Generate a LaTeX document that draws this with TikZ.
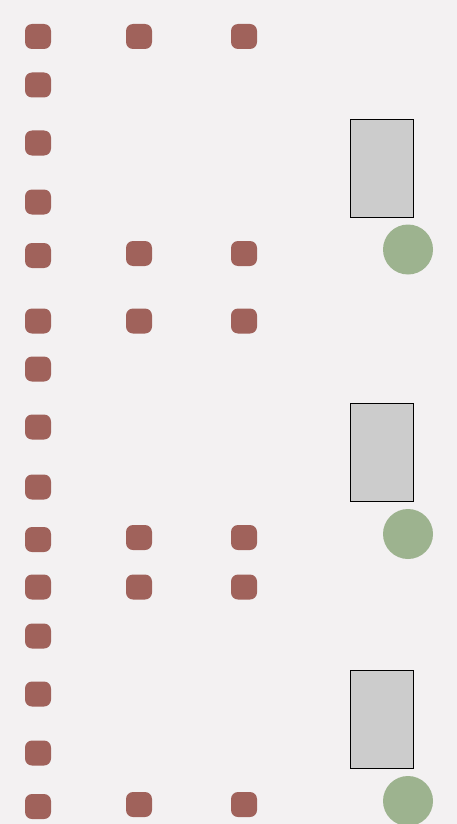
\documentclass[tikz,border=0pt]{standalone}
\definecolor{bgc}{HTML}{F3F1F2}
\definecolor{seatc}{HTML}{A0625B}
\definecolor{greenc}{HTML}{9DB38F}
\definecolor{grayc}{HTML}{CCCCCC}
\tikzset{
  seat/.style={fill=seatc, draw=none, rounded corners=7pt, minimum width=26pt, minimum height=25pt, inner sep=0pt},
  desk/.style={fill=grayc, draw=black, line width=0.8pt, minimum width=63pt, minimum height=98pt, inner sep=0pt},
  ball/.style={fill=greenc, draw=none, circle, minimum size=50pt, inner sep=0pt}
}
\begin{document}
\begin{tikzpicture}[x=1pt,y=-1pt]
\fill[bgc] (0,0) rectangle (457,824);
\useasboundingbox (0,0) rectangle (457,824);
\foreach \y [count=\i] in {36.5,85,143,202,255.5,321,369,427,487,539.5,587,636,694,753,806.5}
  \node[seat] (a\i) at (38,\y) {};
\foreach \y [count=\i] in {36.5,253.5,321,537.5,587,804.5}
  \node[seat] (b\i) at (139,\y) {};
\foreach \y [count=\i] in {36.5,253.5,321,537.5,587,804.5}
  \node[seat] (c\i) at (244,\y) {};
\node[desk] (d1) at (381.5,168) {};
\node[desk] (d2) at (381.5,452) {};
\node[desk] (d3) at (381.5,719) {};
\node[ball] (g1) at (408,249.5) {};
\node[ball] (g2) at (408,534) {};
\node[ball] (g3) at (408,801) {};
\end{tikzpicture}
\end{document}
